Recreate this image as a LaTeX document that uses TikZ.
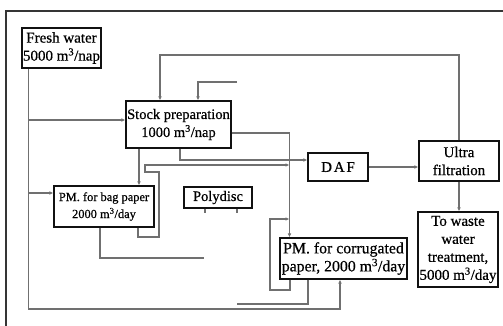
\documentclass[tikz,border=0pt]{standalone}
\usepackage{fontspec}
\setmainfont{Liberation Serif}[FakeBold=0.6]
\usetikzlibrary{arrows.meta}
\definecolor{ink}{HTML}{111111}
\definecolor{pipe}{HTML}{707070}
\tikzset{>={Latex[length=4pt,width=3.6pt]},
  box/.style={draw=ink,line width=1.1pt,fill=white,inner sep=1pt,align=center,
    font=\fontsize{15}{18}\selectfont},
  flow/.style={draw=pipe,line width=1.1pt},
  tab/.style={draw=pipe,line width=2.6pt},
  frame/.style={draw=ink!85,line width=1.4pt}}

\begin{document}
\begin{tikzpicture}[x=1pt,y=-1pt]
\useasboundingbox (0,0) rectangle (503,326);
\draw[frame] (6,326)--(6,11)--(503,11);
% units and boxes
\node[box,minimum width=79,minimum height=40] (fresh) at (61.5,48) {Fresh water\\5000 m\textsuperscript{3}/nap};
\node[box,minimum width=105,minimum height=47,font=\fontsize{14.5}{18}\selectfont] (stock) at (178.5,124.5) {Stock preparation\\1000 m\textsuperscript{3}/nap};
\node[box,minimum width=60,minimum height=28,font=\fontsize{15}{18}\selectfont\addfontfeature{LetterSpace=12}] (daf) at (338,167) {DAF};
\node[box,minimum width=80,minimum height=40] (ultra) at (459,161) {Ultra\\filtration};
\node[box,minimum width=80,minimum height=75] (waste) at (458,249.5) {To waste\\water\\treatment,\\5000 m\textsuperscript{3}/day};
\node[box,minimum width=127,minimum height=41,inner sep=0pt,font=\fontsize{15.8}{18}\selectfont] (corr) at (343.5,258.5) {PM. for corrugated\\paper, 2000 m\textsuperscript{3}/day};
\node[box,minimum width=100,minimum height=41,font=\fontsize{12.4}{17}\selectfont] (bag) at (104,206.5) {PM. for bag paper\\2000 m\textsuperscript{3}/day};
\node[box,minimum width=68,minimum height=21,font=\fontsize{14.5}{16}\selectfont] (poly) at (218,197.5) {Polydisc};
% loose ends
\coordinate (fw) at ([xshift=7]fresh.south west);
\coordinate (inlet) at (237,82);
\coordinate (bagout) at (204,258);
\coordinate (corrout) at (237,304);
\coordinate (drop) at ([xshift=-54]corr.north);
% fresh water
\draw[flow,->] (fw)--(fw |- 0,309) -| ([xshift=-3.5]corr.south);
\draw[flow,->] (fw |- 0,120)--(stock.west |- 0,120);
\draw[flow,->] (fw |- 0,193)--(bag.west |- 0,193);
% stock preparation
\draw[flow,->] (ultra.north)--(ultra.north |- 0,55) -| ([xshift=-18.5]stock.north);
\draw[flow,->] (inlet) -| ([xshift=19.5]stock.north);
\draw[flow,->] (stock.east |- 0,133) -| (drop);
\draw[flow,->] ([xshift=1.5]stock.south) |- ([yshift=7]daf.west);
\draw[flow,->] ([xshift=-39.5]stock.south)--([xshift=-39.5]stock.south |- bag.north);
% DAF and ultra filtration
\draw[flow,->] (daf.east)--(ultra.west |- daf.east);
\draw[flow,->] (ultra.south)--(ultra.south |- waste.north);
% paper machines
\draw[flow,->] ([xshift=34]bag.south)--(138,237)--(159,237)--(159,172)--(145,172)--(145,165)--(drop |- 0,165);
\draw[flow] ([xshift=-4]bag.south) |- (bagout);
\draw[flow,->] ([xshift=-53.5]corr.south)--(290,290)--(270,290)--(270,219)--(drop |- 0,219);
\draw[flow] ([xshift=-35.5]corr.south) |- (corrout);
\draw[tab] ([xshift=-13]poly.south)--++(0,4);
\draw[tab] ([xshift=19]poly.south)--++(0,4);
\end{tikzpicture}
\end{document}
